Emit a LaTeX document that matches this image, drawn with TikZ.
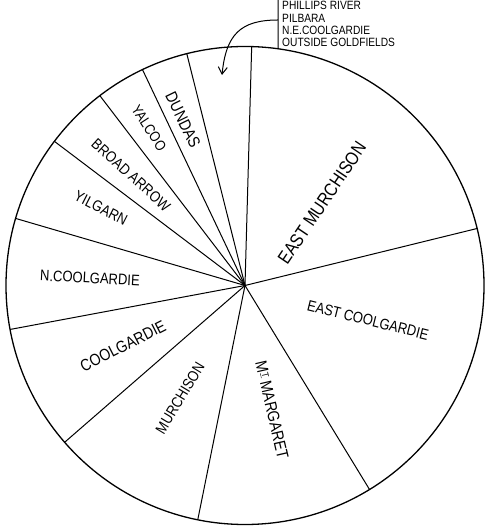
\documentclass[tikz,border=0pt]{standalone}
\usepackage{fontspec}
\setmainfont{Liberation Sans}
\newfontfamily\fieldfont[FakeStretch=0.85]{Liberation Sans}
\usetikzlibrary{arrows.meta,calc}

\begin{document}
\begin{tikzpicture}[x=1pt,y=1pt,
    rim/.style={line width=1.3pt},
    spoke/.style={line width=1pt},
    field/.style={inner sep=0pt,font=\fieldfont\fontsize{15.3}{15.3}\selectfont}]
  \useasboundingbox (0,0) rectangle (485,527);
  \coordinate (O) at (245,241.5);
  \draw[rim] (O) circle (239);
  % spokes between the fields
  \foreach \a [count=\i] in {13.8,88.4,104.1,115.4,127.4,142.9,163.7,190.6,221.0,258.6,301.4}
    {\coordinate (r\i) at ($(O)+(\a:239)$);
     \draw[spoke] (O) -- (r\i);}
  \node[field,font=\fieldfont\fontsize{18.5}{18.5}\selectfont,rotate=56] (emu) at (322,324) {EAST MURCHISON};
  \node[field,rotate=-14] (eco) at (368,207) {EAST COOLGARDIE};
  \node[field,font=\fieldfont\fontsize{16.5}{16.5}\selectfont,rotate=-77] (mtm) at (272,117)
    {M\raisebox{.45ex}{\fontsize{9.5}{9.5}\selectfont\underline{T}} MARGARET};
  \node[field,rotate=59] (mur) at (180,129) {MURCHISON};
  \node[field,font=\fieldfont\fontsize{16.5}{16.5}\selectfont,rotate=27] (coo) at (123,181) {COOLGARDIE};
  \node[field,rotate=-3] (nco) at (90,249) {N.COOLGARDIE};
  \node[field,rotate=-27] (yil) at (101,319) {YILGARN};
  \node[field,rotate=-42] (bro) at (131,352) {BROAD ARROW};
  \node[field,font=\fieldfont\fontsize{14.7}{14.7}\selectfont,rotate=-57] (yal) at (149,399) {YALCOO};
  \node[field,font=\fieldfont\fontsize{16.5}{16.5}\selectfont,rotate=-64] (dun) at (183,407) {DUNDAS};
  % the small fields, bracketed to one slice
  \node[field,font=\fieldfont\fontsize{12}{12.3}\selectfont,align=left,anchor=south west] (small) at (282,480)
    {PEAK HILL\\PHILLIPS RIVER\\PILBARA\\N.E.COOLGARDIE\\OUTSIDE GOLDFIELDS};
  \coordinate (bb) at ($(O)+(82.06:239)$);
  \coordinate (bt) at (278,535);
  \coordinate (bm) at (278,507);
  \coordinate (tip) at (222,452);
  \draw[spoke] (bb) -- (bt);
  \draw[spoke,-{Straight Barb[length=7pt,width=9pt]}] (bm) .. controls (240,507) and (226,492) .. (tip);
\end{tikzpicture}
\end{document}
